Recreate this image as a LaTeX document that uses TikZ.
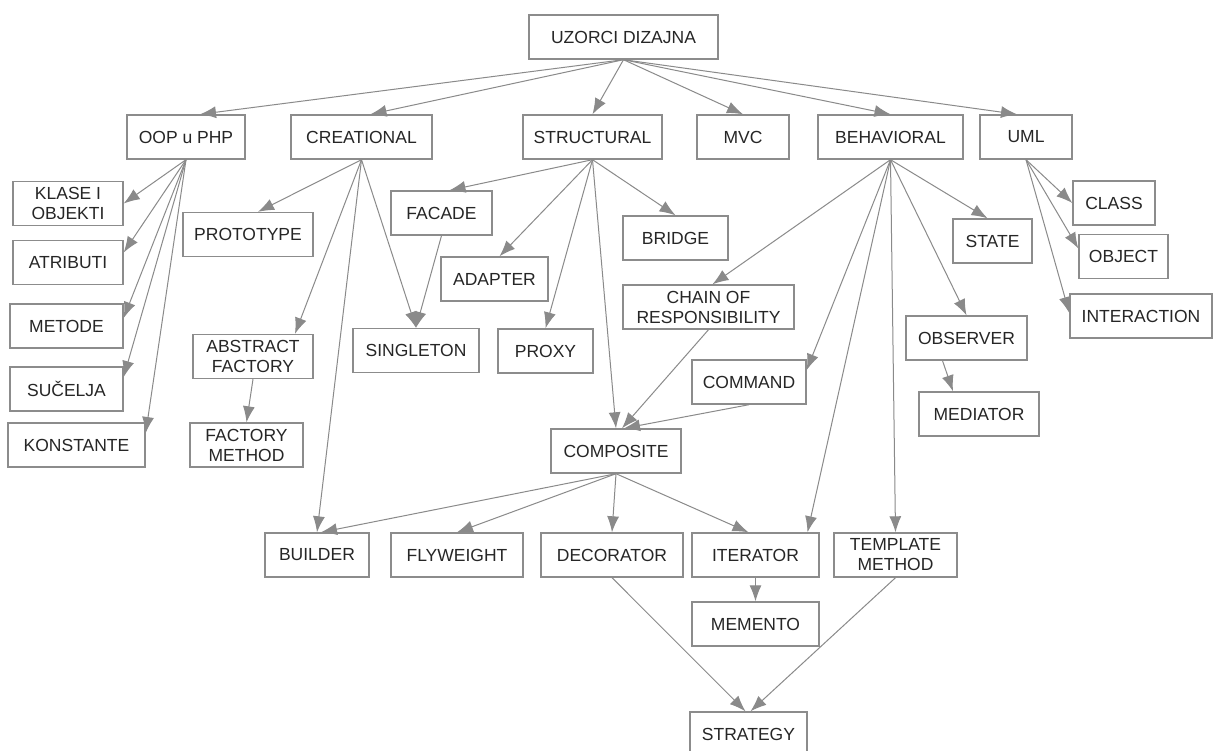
\documentclass[tikz,border=0pt]{standalone}
\usepackage{fontspec}
\setmainfont{Liberation Sans}
\usetikzlibrary{arrows.meta}
\definecolor{boxgray}{HTML}{8C8C8C}
\definecolor{edgegray}{HTML}{8A8A8A}
\definecolor{txtgray}{HTML}{262626}
\tikzset{
    box/.style={draw=boxgray, line width=1.4pt, fill=white, text=txtgray,
        minimum height=44, inner sep=2pt, align=center,
        font=\fontsize{17.5}{20}\selectfont},
    arr/.style={draw=edgegray, line width=1pt, -{Latex[length=16pt,width=12pt]}}
}
\begin{document}
\begin{tikzpicture}[x=1pt, y=-1pt]
        \path[use as bounding box, fill=white](0,0) rectangle (1215,751);
        %livello 0 e 1
        \node[box, minimum width=189] (uzorci) at (623.5,37) {UZORCI DIZAJNA};
        \node[box, minimum width=118] (oop) at (186,137) {OOP u PHP};
        \node[box, minimum width=141] (creational) at (361.5,137) {CREATIONAL};
        \node[box, minimum width=139] (structural) at (592.5,137) {STRUCTURAL};
        \node[box, minimum width=92] (mvc) at (743,137) {MVC};
        \node[box, minimum width=145] (behavioral) at (890.5,137) {BEHAVIORAL};
        \node[box, minimum width=92] (uml) at (1026,137) {UML};
        %oop
        \node[box, minimum width=110] (klase) at (68,203.5) {KLASE I\\OBJEKTI};
        \node[box, minimum width=110] (atributi) at (68,262.5) {ATRIBUTI};
        \node[box, minimum width=113] (metode) at (66.5,326) {METODE};
        \node[box, minimum width=113] (sucelja) at (66.5,389) {SUČELJA};
        \node[box, minimum width=137] (konstante) at (76.5,445) {KONSTANTE};
        %creational
        \node[box, minimum width=130] (prototype) at (248,234.5) {PROTOTYPE};
        \node[box, minimum width=120] (abstract) at (253,356.5) {ABSTRACT\\FACTORY};
        \node[box, minimum width=113] (factory) at (246.5,445) {FACTORY\\METHOD};
        \node[box, minimum width=126] (singleton) at (416,350.5) {SINGLETON};
        \node[box, minimum width=104] (builder) at (317,555) {BUILDER};
        %structural
        \node[box, minimum width=101] (facade) at (441.5,213) {FACADE};
        \node[box, minimum width=107] (adapter) at (494.5,279) {ADAPTER};
        \node[box, minimum width=95] (proxy) at (545.5,351) {PROXY};
        \node[box, minimum width=105] (bridge) at (675.5,238) {BRIDGE};
        \node[box, minimum width=130] (composite) at (616,451) {COMPOSITE};
        \node[box, minimum width=132] (flyweight) at (457,555) {FLYWEIGHT};
        \node[box, minimum width=142] (decorator) at (612,555) {DECORATOR};
        %behavioral
        \node[box, minimum width=171] (chain) at (708.5,307) {CHAIN OF\\RESPONSIBILITY};
        \node[box, minimum width=114] (command) at (749,382) {COMMAND};
        \node[box, minimum width=79] (state) at (992.5,241) {STATE};
        \node[box, minimum width=121] (observer) at (966.5,338) {OBSERVER};
        \node[box, minimum width=120] (mediator) at (979,414) {MEDIATOR};
        \node[box, minimum width=127] (iterator) at (755.5,555) {ITERATOR};
        \node[box, minimum width=123] (template) at (895.5,555) {TEMPLATE\\METHOD};
        \node[box, minimum width=127] (memento) at (755.5,624) {MEMENTO};
        \node[box, minimum width=117] (strategy) at (748.5,734) {STRATEGY};
        %uml
        \node[box, minimum width=82] (class) at (1114,203) {CLASS};
        \node[box, minimum width=89] (object) at (1123.5,256.5) {OBJECT};
        \node[box, minimum width=142] (interaction) at (1141,316) {INTERACTION};

        %frecce dal centro
        \draw[arr](uzorci.south)--([xshift=14]oop.north);
        \draw[arr](uzorci.south)--([xshift=9]creational.north);
        \draw[arr](uzorci.south)--(structural.north);
        \draw[arr](uzorci.south)--(mvc.north);
        \draw[arr](uzorci.south)--(behavioral.north);
        \draw[arr](uzorci.south)--([xshift=-9]uml.north);
        %frecce oop
        \draw[arr](oop.south)--(klase.east);
        \draw[arr](oop.south)--([yshift=10]atributi.east);
        \draw[arr](oop.south)--([yshift=8]metode.east);
        \draw[arr](oop.south)--([yshift=12]sucelja.east);
        \draw[arr](oop.south)--([yshift=12]konstante.east);
        %frecce creational
        \draw[arr](creational.south)--([xshift=10]prototype.north);
        \draw[arr](creational.south)--([xshift=42]abstract.north);
        \draw[arr](creational.south)--(builder.north);
        \draw[arr](creational.south)--(singleton.north);
        \draw[arr](abstract.south)--(factory.north);
        %frecce structural
        \draw[arr](structural.south)--([xshift=8]facade.north);
        \draw[arr](structural.south)--([xshift=5]adapter.north);
        \draw[arr](structural.south)--(proxy.north);
        \draw[arr](structural.south)--(bridge.north);
        \draw[arr](structural.south)--(composite.north);
        \draw[arr](facade.south)--(singleton.north);
        %frecce behavioral
        \draw[arr](behavioral.south)--([xshift=4]chain.north);
        \draw[arr](behavioral.south)--([yshift=12]command.east);
        \draw[arr](behavioral.south)--([xshift=52]iterator.north);
        \draw[arr](behavioral.south)--(template.north);
        \draw[arr](behavioral.south)--(observer.north);
        \draw[arr](behavioral.south)--([xshift=-5]state.north);
        \draw[arr](chain.south)--([xshift=6]composite.north);
        \draw[arr](command.south)--([xshift=8]composite.north);
        \draw[arr]([xshift=-24]observer.south)--([xshift=-26]mediator.north);
        %frecce uml
        \draw[arr](uml.south)--(class.west);
        \draw[arr](uml.south)--([yshift=8]object.west);
        \draw[arr](uml.south)--([yshift=3]interaction.west);
        %frecce composite
        \draw[arr](composite.south)--([xshift=4]builder.north);
        \draw[arr](composite.south)--(flyweight.north);
        \draw[arr](composite.south)--(decorator.north);
        \draw[arr](composite.south)--([xshift=-7]iterator.north);
        \draw[arr](iterator.south)--(memento.north);
        \draw[arr](decorator.south)--([xshift=-3]strategy.north);
        \draw[arr](template.south)--([xshift=2]strategy.north);
\end{tikzpicture}
\end{document}
